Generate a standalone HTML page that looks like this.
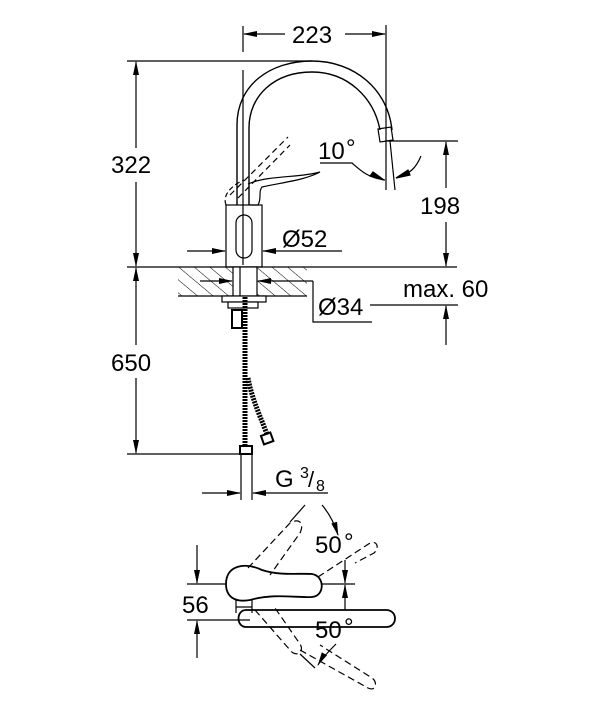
<!DOCTYPE html>
<html><head><meta charset="utf-8"><style>
html,body{margin:0;padding:0;background:#fff;}
svg{display:block;}
text{font-family:"Liberation Sans",sans-serif;font-size:24px;fill:#000;}
</style></head><body>
<svg width="607" height="720" viewBox="0 0 607 720" xmlns="http://www.w3.org/2000/svg">
<defs>
<pattern id="h" width="10" height="10" patternUnits="userSpaceOnUse" patternTransform="rotate(-50)">
<line x1="0" y1="0" x2="0" y2="10" stroke="#000" stroke-width="1"/></pattern>
<marker id="a" markerWidth="14" markerHeight="8" refX="13" refY="4" orient="auto" markerUnits="userSpaceOnUse"><path d="M0,1 L14,4 L0,7 z" fill="#000"/></marker>
</defs>
<g stroke="#000" stroke-width="1.2" fill="none">
<line x1="243" y1="26" x2="243" y2="52"/>
<line x1="243" y1="70" x2="243" y2="265"/>
<line x1="386" y1="25" x2="386" y2="190"/>
<line x1="285" y1="34" x2="244" y2="34" marker-end="url(#a)"/>
<line x1="345" y1="34" x2="385" y2="34" marker-end="url(#a)"/>
<line x1="127" y1="61" x2="312" y2="61"/>
<line x1="127" y1="267" x2="457" y2="267"/>
<line x1="136" y1="148" x2="136" y2="62" marker-end="url(#a)"/>
<line x1="136" y1="182" x2="136" y2="266" marker-end="url(#a)"/>
<line x1="386" y1="141" x2="458" y2="141"/>
<line x1="446" y1="188" x2="446" y2="142" marker-end="url(#a)"/>
<line x1="446" y1="222" x2="446" y2="266" marker-end="url(#a)"/>
<line x1="370" y1="305" x2="458" y2="305"/>
<line x1="446" y1="345" x2="446" y2="306" marker-end="url(#a)"/>
<line x1="136" y1="345" x2="136" y2="268" marker-end="url(#a)"/>
<line x1="136" y1="378" x2="136" y2="453" marker-end="url(#a)"/>
<line x1="127" y1="454" x2="250" y2="454"/>
<path d="M237,205 L237,125 C237,85 270,61 312,61 C355,61 388,90 392,130" stroke-width="1.4"/>
<path d="M249,205 L249,128 C249,95 275,72 312,72 C348,72 374,98 380,130" stroke-width="1.4"/>
<path d="M378,129 L391,127 L393,140 L380,142 z"/>
<line x1="390" y1="141" x2="395" y2="190"/>
<path d="M320,163 L352,163 C360,170 368,178 385,180" />
<path d="M384,180 L370,176 L373,172 z" fill="#000"/>
<path d="M421,156 C416,168 410,174 396,178"/>
<path d="M396,178 L408,170 L410,175 z" fill="#000"/>
<rect x="226" y="205" width="36" height="62"/>
<rect x="236" y="215" width="16" height="43" rx="8"/>
<path d="M248,184 C268,175 300,178 320,172 C305,180 285,182 262,187 C258,192 262,198 258,205 L250,205"/>
<path d="M226,205 C222,195 232,185 244,180" stroke-dasharray="5,3"/>
<path d="M230,195 L288,137 M238,198 L290,145" stroke-dasharray="6,4"/>
<line x1="187" y1="251" x2="225" y2="251" marker-end="url(#a)"/>
<line x1="342" y1="251" x2="263" y2="251" marker-end="url(#a)"/>
<rect x="178" y="267" width="129" height="29" fill="url(#h)" stroke="none"/>
<line x1="178" y1="296" x2="307" y2="296"/>
<rect x="233" y="267" width="24" height="29" fill="#fff"/>
<line x1="240" y1="267" x2="240" y2="296"/>
<line x1="200" y1="281" x2="232" y2="281" marker-end="url(#a)"/>
<line x1="313" y1="281" x2="258" y2="281" marker-end="url(#a)"/>
<polyline points="313,281 313,322 372,322"/>
<rect x="222" y="296" width="44" height="6" fill="#fff"/>
<rect x="228" y="302" width="30" height="6" fill="#fff"/>
<rect x="232" y="310" width="10" height="18" fill="#fff" stroke-width="2"/>
<line x1="245" y1="297" x2="245" y2="445" stroke-width="5" stroke-dasharray="2,1"/>
<path d="M248,378 C252,400 262,420 268,437" stroke-width="5" stroke-dasharray="2,1"/>
<rect x="262" y="434" width="10" height="9" fill="#fff" stroke-width="2" transform="rotate(-20 267 438)"/>
<rect x="240" y="446" width="12" height="8" fill="#fff" stroke-width="2"/>
<line x1="241" y1="454" x2="241" y2="500"/>
<line x1="252" y1="454" x2="252" y2="500"/>
<line x1="202" y1="493" x2="240" y2="493" marker-end="url(#a)"/>
<line x1="328" y1="493" x2="253" y2="493" marker-end="url(#a)"/>
<line x1="197" y1="545" x2="197" y2="583" marker-end="url(#a)"/>
<line x1="197" y1="658" x2="197" y2="621" marker-end="url(#a)"/>
<line x1="187" y1="584" x2="355" y2="584"/>
<line x1="187" y1="620" x2="250" y2="620"/>
<path d="M226,584 C226,565 245,562 262,570 C280,576 300,573 312,574 C325,576 325,596 312,597 C295,598 275,593 250,600 C234,603 226,596 226,584 z" fill="#fff" stroke-width="1.8"/>
<path d="M236,600 L236,613 M252,600 L252,613 M236,607 L252,607"/>
<path d="M246,610 L386,610 C398,610 398,627 386,627 L246,627 C236,627 236,610 246,610" stroke-width="1.8"/>
<rect x="312" y="611" width="50" height="14" fill="#fff" stroke="none"/>
<g stroke-dasharray="7,4">
<path d="M248,568 L290,523 C298,518 305,522 300,533 L270,575"/>
<path d="M318,577 L370,543 C377,540 380,548 374,553 L355,563"/>
<path d="M255,610 L290,650 C296,658 305,652 300,644 L275,608"/>
<path d="M300,650 L368,688 C376,692 378,682 372,678 L320,645"/>
</g>
<line x1="290" y1="522" x2="305" y2="505"/>
<line x1="300" y1="654" x2="315" y2="668"/>
<path d="M322,505 C328,512 334,522 338,535" marker-end="url(#a)"/>
<path d="M345,560 L345,583" marker-end="url(#a)"/>
<path d="M345,610 L345,585" marker-end="url(#a)"/>
<path d="M336,644 C330,650 322,658 318,665" marker-end="url(#a)"/>
</g>
<text x="292" y="43">223</text>
<text x="111" y="173">322</text>
<text x="420" y="214">198</text>
<text x="111" y="371">650</text>
<text x="318" y="159">10</text><text x="346" y="156">°</text>
<text x="282" y="247">Ø52</text>
<text x="318" y="315">Ø34</text>
<text x="403" y="297">max. 60</text>
<text x="275" y="487">G</text><text x="300" y="478" style="font-size:16px">3</text><text x="308" y="487" style="font-size:22px">/</text><text x="316" y="491" style="font-size:16px">8</text>
<text x="182" y="613">56</text>
<text x="315" y="553">50</text><text x="344" y="550">°</text>
<text x="315" y="638">50</text><text x="344" y="635">°</text>
</svg>
</body></html>
